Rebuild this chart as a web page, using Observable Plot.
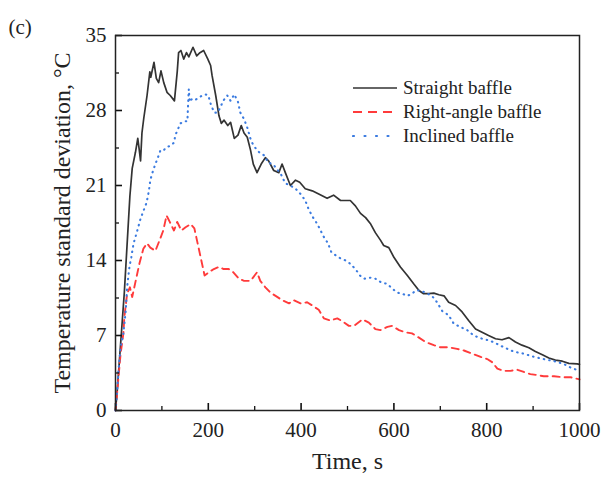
<!DOCTYPE html>
<html>
<head>
<meta charset="utf-8">
<script src="https://cdn.jsdelivr.net/npm/d3@7"></script>
<script src="https://cdn.jsdelivr.net/npm/@observablehq/plot@0.6"></script>
<style>
  body { margin: 0; background: #fff; }
  #wrap { position: relative; width: 604px; height: 483px; font-family: "Liberation Serif", "Times New Roman", serif; }
  #legend { position: absolute; left: 352px; top: 76px; font-size: 19px; color: #222; line-height: 24px; }
  #legend div { display: flex; align-items: center; height: 24px; }
  #legend svg { margin-right: 5px; }
</style>
</head>
<body>
<div id="wrap"></div>
<script>
// [time s, temperature standard deviation °C]
const straightBaffle = [[0,0],[4,2],[9,5],[14,8],[19,11],[23,14],[27,17],[31,20],[36,22.6],[43,24.1],[48,25.4],[51,24.4],[54,23.3],[57,25.9],[61,27.3],[68,29.4],[74,31.6],[76,31.1],[83,32.5],[88,31],[93,30.6],[98,31.7],[104,30.6],[111,29.7],[118,29.4],[127,28.9],[133,31.6],[136,33.4],[141,33.6],[147,32.8],[153,33.4],[158,33.0],[167,33.9],[175,33.1],[182,33.4],[190,33.6],[199,32.8],[205,32.2],[208,31.3],[216,29.4],[223,27.5],[228,26.8],[234,27.1],[242,26.6],[248,26.9],[256,25.4],[264,25.7],[271,26.6],[277,25.9],[284,25.5],[291,24.3],[297,23.0],[305,22.2],[314,23.0],[323,23.6],[330,23.3],[341,22.4],[352,22.2],[359,23.0],[366,22.2],[377,21.0],[388,21.5],[397,21.3],[409,20.7],[424,20.5],[438,20.2],[456,19.8],[470,20.1],[485,19.6],[506,19.6],[517,19.1],[528,18.4],[539,18.0],[550,17.4],[560,16.6],[571,15.9],[578,15.4],[589,15.2],[600,14.3],[614,13.4],[629,12.6],[643,11.8],[654,11.2],[664,10.9],[675,10.9],[686,10.95],[697,10.8],[708,10.7],[718,10.1],[733,9.8],[747,9.2],[761,8.4],[776,7.6],[790,7.3],[804,7.0],[819,6.7],[833,6.6],[848,6.8],[862,6.4],[876,6.1],[891,5.85],[905,5.5],[920,5.2],[934,4.9],[948,4.7],[963,4.6],[977,4.4],[995,4.35],[1000,4.3]];
const rightAngleBaffle = [[0,0],[2,0.9],[7,3.4],[11,5.3],[17,7.2],[19,8.7],[25,10.9],[31,11.5],[36,10.6],[39,11.2],[45,12.4],[52,13.8],[60,15.1],[68,15.6],[75,15.2],[86,14.9],[96,16.0],[103,16.8],[110,18.2],[117,17.6],[126,16.8],[133,17.6],[142,16.8],[151,17.1],[162,17.4],[170,17.0],[177,15.6],[185,14.0],[192,12.6],[201,12.9],[212,13.2],[223,13.4],[233,13.2],[244,13.2],[254,12.9],[266,12.3],[277,12.1],[291,12.1],[305,12.9],[312,12.1],[323,11.5],[334,11.0],[345,10.7],[359,10.3],[374,10.0],[384,10.3],[399,10.0],[413,10.1],[424,9.8],[438,9.4],[449,8.6],[463,8.4],[478,8.6],[490,8.3],[503,7.9],[514,7.9],[532,8.5],[546,8.2],[560,7.6],[571,7.5],[586,7.8],[596,7.9],[611,7.5],[625,7.3],[639,7.2],[654,6.8],[668,6.4],[686,6.1],[700,5.9],[718,5.9],[736,5.75],[751,5.6],[769,5.3],[787,5.0],[801,4.8],[812,4.5],[823,3.9],[837,3.7],[851,3.7],[866,3.8],[880,3.6],[894,3.4],[909,3.3],[923,3.2],[945,3.2],[966,3.1],[981,3.1],[1000,2.9]];
const inclinedBaffle = [[0,0],[2,0.9],[7,4.0],[11,5.9],[17,7.2],[22,9.3],[25,11.5],[30,13.4],[34,14.3],[39,15.6],[47,16.8],[54,17.9],[60,18.6],[67,19.4],[72,20.5],[75,21.5],[81,22.4],[86,23.0],[93,23.8],[97,24.3],[104,24.3],[111,24.6],[118,24.7],[126,25.0],[129,25.7],[133,26.1],[140,26.8],[149,27.0],[155,27.0],[156,28.1],[158,30.0],[160,28.8],[165,29.1],[172,29.0],[180,29.2],[187,29.4],[194,29.5],[200,29.4],[206,28.5],[213,27.8],[220,27.8],[226,28.3],[232,28.9],[241,29.4],[248,28.9],[256,29.5],[264,28.8],[269,27.8],[277,27.2],[284,26.4],[292,25.2],[298,24.7],[305,24.3],[312,24.0],[321,23.8],[328,23.2],[341,22.9],[356,22.1],[366,21.2],[377,21.0],[388,20.7],[399,20.2],[409,19.6],[417,18.7],[426,18.0],[435,17.4],[442,16.8],[449,16.2],[458,15.6],[465,14.8],[474,14.5],[485,14.2],[496,14.0],[506,13.7],[517,13.2],[527,12.6],[537,12.3],[550,12.4],[560,12.3],[571,12.0],[586,11.8],[596,11.4],[607,11.0],[618,10.9],[629,10.7],[639,10.9],[647,11.2],[657,11.2],[668,11.0],[682,10.7],[693,10.1],[704,9.3],[718,8.9],[729,8.1],[743,7.8],[758,7.5],[772,7.0],[790,6.7],[808,6.5],[823,6.2],[837,5.9],[858,5.5],[880,5.3],[902,5.0],[923,4.8],[945,4.6],[966,4.35],[981,4.0],[1000,3.7]];

const seriesNames = ["Straight baffle", "Right-angle baffle", "Inclined baffle"];
const seriesColors = ["#333333", "#ff3b3b", "#3b7be0"];
const xMajorTicks = [0, 200, 400, 600, 800, 1000];
const xMinorTicks = [100, 300, 500, 700, 900];
const yMajorTicks = [0, 7, 14, 21, 28, 35];
const yMinorTicks = [3.5, 10.5, 17.5, 24.5, 31.5];
const xTitle = "Time, s";
const yTitle = "Temperature standard deviation, \u00B0C";
const panelTag = "(c)";

const W = 604, H = 483, ML = 115, MR = 25, MT = 35, MB = 73;
const plotW = W - ML - MR, plotH = H - MT - MB;
const toRows = (arr) => arr.map(([t, v]) => ({t, v}));

const chart = Plot.plot({
  width: W,
  height: H,
  marginLeft: ML,
  marginRight: MR,
  marginTop: MT,
  marginBottom: MB,
  style: {fontFamily: "'Liberation Serif', 'Times New Roman', serif", fontSize: "21px", color: "#222", background: "#fff"},
  x: {domain: [0, 1000]},
  y: {domain: [0, 35]},
  marks: [
    Plot.line(toRows(straightBaffle), {x: "t", y: "v", stroke: seriesColors[0], strokeWidth: 1.7}),
    Plot.line(toRows(rightAngleBaffle), {x: "t", y: "v", stroke: seriesColors[1], strokeWidth: 1.9, strokeDasharray: "7,5"}),
    Plot.line(toRows(inclinedBaffle), {x: "t", y: "v", stroke: seriesColors[2], strokeWidth: 2.1, strokeDasharray: "0.5,5", strokeLinecap: "round"}),
    Plot.tickX(xMajorTicks, {x: d => d, insetTop: plotH - 7, stroke: "#111", strokeWidth: 1.6}),
    Plot.tickX(xMinorTicks, {x: d => d, insetTop: plotH - 4, stroke: "#111", strokeWidth: 1.3}),
    Plot.tickY(yMajorTicks, {y: d => d, insetRight: plotW - 7, stroke: "#111", strokeWidth: 1.6}),
    Plot.tickY(yMinorTicks, {y: d => d, insetRight: plotW - 4, stroke: "#111", strokeWidth: 1.3}),
    Plot.frame({stroke: "#222", strokeWidth: 1.5}),
    Plot.axisX({ticks: xMajorTicks, tickSize: 0, tickPadding: 12, tickFormat: d3.format("d"), label: null, fontSize: 21}),
    Plot.axisY({ticks: yMajorTicks, tickSize: 0, tickPadding: 9, tickFormat: d3.format("d"), label: null, fontSize: 21}),
    Plot.text([xTitle], {frameAnchor: "bottom", dy: 58, fontSize: 24, fill: "#222"}),
    Plot.text([yTitle], {frameAnchor: "left", textAnchor: "middle", rotate: -90, dx: -53, fontSize: 24, fill: "#222"}),
    Plot.text([panelTag], {frameAnchor: "top-left", dx: -107, dy: -16, fontSize: 21, fill: "#222"})
  ]
});

const wrap = document.getElementById("wrap");
wrap.appendChild(chart);

const legend = document.createElement("div");
legend.id = "legend";
const dashes = [null, "9,6", "1,10.5"];
const widths = [1.7, 1.9, 2.2];
seriesNames.forEach((name, i) => {
  const row = document.createElement("div");
  row.innerHTML = `<svg width="46" height="10"><line x1="1" y1="5" x2="45" y2="5" stroke="${seriesColors[i]}" stroke-width="${widths[i]}" ${dashes[i] ? `stroke-dasharray="${dashes[i]}"` : ""} ${i === 2 ? 'stroke-linecap="round"' : ""}/></svg><span>${name}</span>`;
  legend.appendChild(row);
});
wrap.appendChild(legend);
</script>
</body>
</html>
